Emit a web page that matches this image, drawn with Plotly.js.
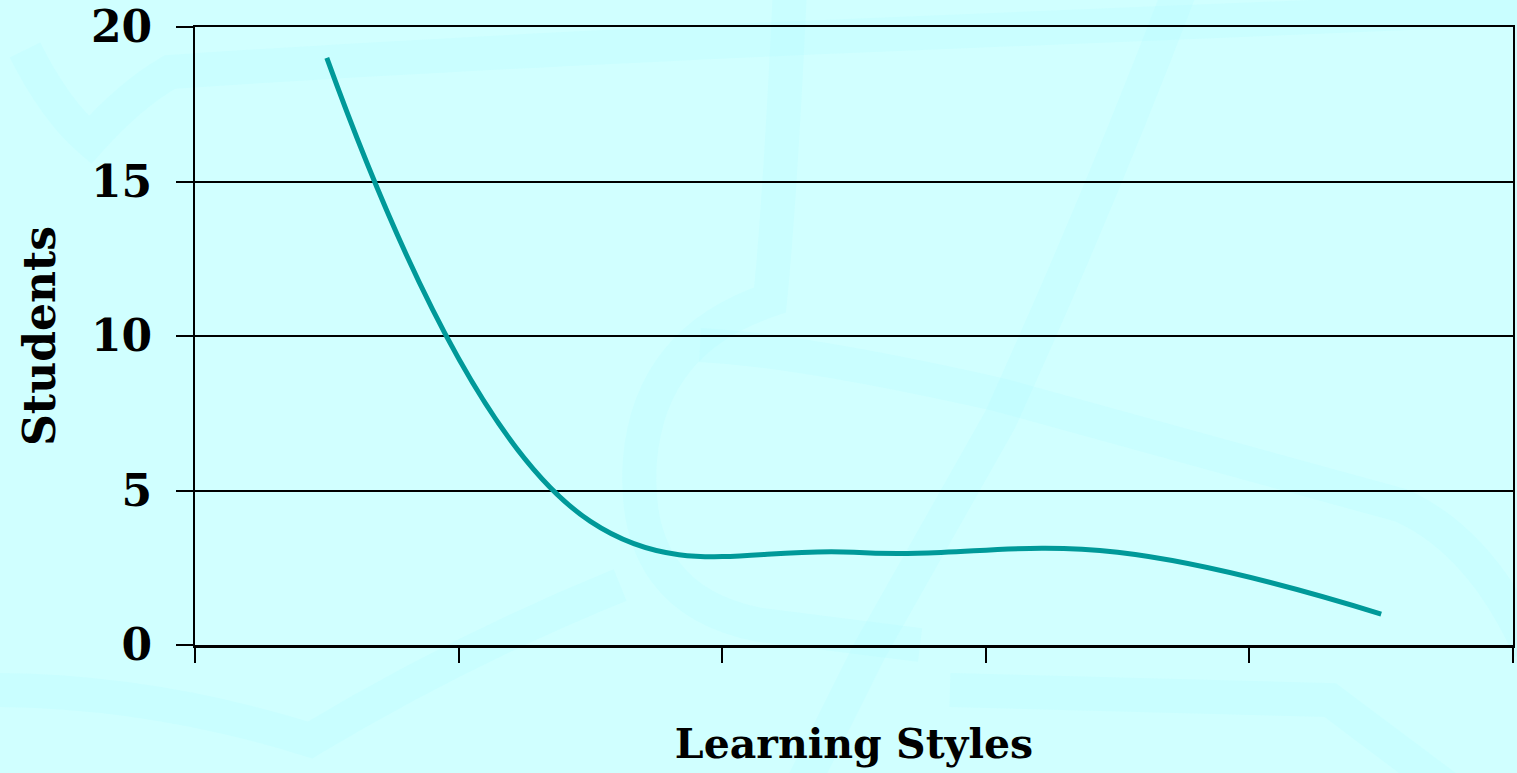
<!DOCTYPE html>
<html>
<head>
<meta charset="utf-8">
<script src="https://cdn.plot.ly/plotly-3.0.1.min.js"></script>
<style>
  html, body { margin: 0; padding: 0; background: #D0FFFF; }
  #chart { width: 1517px; height: 773px; }
</style>
</head>
<body>
<div id="chart"></div>
<script>
// ---- data ----
var categories = [1, 2, 3, 4, 5];           // learning style groups (unlabelled in source)
var students   = [19, 4, 3, 3, 1];          // number of students
var yTicks     = [0, 5, 10, 15, 20];
var xTitle = "Learning Styles";
var yTitle = "Students";

// ---- layout geometry ----
var W = 1517, H = 773;
var M = {l: 195, r: 4, t: 27, b: 128};
var pw = W - M.l - M.r, ph = H - M.t - M.b;
function fx(px) { return ((px - M.l) / pw).toFixed(4); }
function fy(py) { return ((H - M.b - py) / ph).toFixed(4); }
// decorative background swirls (pixel-style commands converted to paper units)
function path(cmds) {
  return cmds.map(function (c) {
    var s = c[0];
    for (var i = 1; i < c.length; i += 2) s += " " + fx(c[i]) + "," + fy(c[i + 1]);
    return s;
  }).join(" ");
}
var swirlColor = "rgba(180,252,255,0.26)";
var swirls = [
  [["M", 25, 50], ["Q", 55, 110, 90, 140], ["Q", 130, 95, 170, 72], ["Q", 420, 55, 800, 38], ["L", 1530, 8]],
  [["M", 790, -10], ["Q", 780, 200, 770, 300], ["Q", 650, 340, 640, 460], ["Q", 630, 600, 760, 625], ["L", 920, 645]],
  [["M", 700, 345], ["Q", 800, 350, 1000, 395], ["L", 1400, 505], ["Q", 1480, 540, 1530, 650]],
  [["M", 1180, -10], ["Q", 1100, 200, 1000, 420], ["L", 870, 650], ["L", 800, 790]],
  [["M", -10, 690], ["Q", 150, 690, 310, 740], ["Q", 460, 650, 620, 585]],
  [["M", 950, 690], ["L", 1330, 700], ["L", 1450, 790]]
];
var shapes = swirls.map(function (s) {
  return {
    type: "path", xref: "paper", yref: "paper", layer: "below",
    path: path(s),
    line: {color: swirlColor, width: 34}
  };
});

var fam = "DejaVu Serif, serif";

var trace = {
  type: "scatter",
  mode: "lines",
  x: categories,
  y: students,
  line: {color: "#009999", width: 5, shape: "spline", smoothing: 1.15},
  hoverinfo: "x+y",
  showlegend: false,
  cliponaxis: false
};

var layout = {
  width: W, height: H,
  margin: M,
  paper_bgcolor: "#D0FFFF",
  plot_bgcolor: "rgba(210,255,255,0.6)",
  font: {family: fam, color: "#000"},
  shapes: shapes,
  showlegend: false,
  xaxis: {
    range: [0.5, 5.5],
    tickvals: [0.5, 1.5, 2.5, 3.5, 4.5, 5.5],
    showticklabels: false,
    ticks: "outside", ticklen: 15, tickwidth: 2, tickcolor: "#000",
    showgrid: false, zeroline: false,
    showline: true, linecolor: "#000", linewidth: 2.5, mirror: true,
    title: {text: "<b>" + xTitle + "</b>", font: {family: fam, size: 41, color: "#000"}, standoff: 68},
    fixedrange: true
  },
  yaxis: {
    range: [0, 20],
    tickvals: yTicks,
    ticktext: yTicks.map(function (v) { return "<b>" + v + "</b>"; }),
    tickfont: {family: fam, size: 44, color: "#000"},
    ticks: "outside", ticklen: 17, tickwidth: 2, tickcolor: "#000",
    ticklabelstandoff: 15,
    showgrid: true, gridcolor: "#000", gridwidth: 2,
    zeroline: false,
    showline: true, linecolor: "#000", linewidth: 2, mirror: true,
    title: {text: "<b>" + yTitle + "</b>", font: {family: fam, size: 44, color: "#000"}, standoff: 22},
    fixedrange: true
  }
};

Plotly.newPlot("chart", [trace], layout, {displayModeBar: false, staticPlot: true});
</script>
</body>
</html>
